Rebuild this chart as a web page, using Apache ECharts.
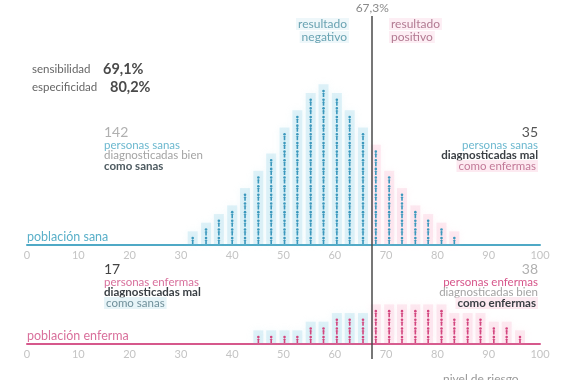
<!DOCTYPE html>
<html>
<head>
<meta charset="utf-8">
<script src="https://cdn.jsdelivr.net/npm/echarts@6/dist/echarts.min.js"></script>
<style>html,body{margin:0;padding:0;background:#fff}#c{width:570px;height:380px}</style>
</head>
<body>
<div id="c"></div>
<script>
// ---- data ----
const threshold = 67.3;
const tickLabels = ['0','10','20','30','40','50','60','70','80','90','100'];
const healthyX = [32.3, 34.9, 37.4, 40.0, 42.5, 45.1, 47.6, 50.2, 52.7, 55.3, 57.8, 60.4, 62.9, 65.5, 68.0, 70.6, 73.1, 75.7, 78.2, 80.8, 83.3];
const healthyCounts = [1, 2, 3, 4, 6, 8, 10, 13, 15, 17, 18, 17, 15, 13, 11, 8, 6, 4, 3, 2, 1];
const sickX = [45.1, 47.6, 50.2, 52.7, 55.3, 57.8, 60.4, 62.9, 65.5, 68.0, 70.6, 73.1, 75.7, 78.2, 80.8, 83.3, 85.9, 88.4, 91.0, 93.5, 96.1];
const sickCounts = [1, 1, 1, 1, 2, 2, 3, 3, 3, 4, 4, 4, 4, 4, 4, 3, 3, 3, 2, 2, 1];
const sensitivity = '69,1%';
const specificity = '80,2%';

const FONT = 'Lato';
const chart = echarts.init(document.getElementById('c'));

function renderCol(iconColor) {
  return function (params, api) {
    const x = api.value(0), n = api.value(1);
    const base = api.coord([x, 0]);
    const unit = api.size([0, 1])[1];
    const pos = x > threshold;
    const bg = pos ? 'rgba(250,205,222,0.42)' : 'rgba(180,224,238,0.42)';
    const cx = base[0];
    const children = [{
      type: 'rect',
      shape: { x: cx - 5, y: base[1] - n * unit - 5, width: 10, height: n * unit + 4 },
      style: { fill: bg, shadowBlur: 7, shadowColor: bg }
    }];
    for (let i = 0; i < n; i++) {
      const cy = base[1] - (i + 0.5) * unit;
      children.push({ type: 'circle', shape: { cx: cx, cy: cy - 2.6, r: 1.3 }, style: { fill: iconColor } });
      children.push({ type: 'polygon', shape: { points: [[cx - 1.7, cy + 0.2], [cx, cy - 1.2], [cx + 1.7, cy + 0.2], [cx + 0.8, cy + 0.2], [cx + 0.8, cy + 3.4], [cx - 0.8, cy + 3.4], [cx - 0.8, cy + 0.2]] }, style: { fill: iconColor } });
    }
    return { type: 'group', children: children };
  };
}

function xAxisCfg(grid, color, show) {
  return {
    type: 'value', gridIndex: grid, min: 0, max: 100, interval: 10,
    show: show,
    axisLine: { show: true, onZero: false, lineStyle: { color: color, width: 2 } },
    axisTick: { show: false }, splitLine: { show: false },
    axisLabel: { color: '#c4c4c4', fontSize: 11, fontFamily: FONT, margin: 5,
      formatter: function (v) { return tickLabels[Math.round(v / 10)]; } }
  };
}
function yAxisCfg(grid) {
  return { type: 'value', gridIndex: grid, min: 0, max: 20, show: false, splitLine: { show: false } };
}

function txt(x, y, text, color, opts) {
  opts = opts || {};
  return {
    type: 'text', x: x, y: y, z: 10,
    style: {
      text: text, fill: color, fontFamily: FONT,
      fontSize: opts.size || 11.5, fontWeight: opts.bold ? 'bold' : 'normal',
      align: opts.align || 'left', verticalAlign: 'top',
      backgroundColor: opts.bg || 'transparent', padding: opts.bg ? [0, 2, 0, 2] : 0
    }
  };
}

const teal = '#6cb8cf', pink = '#d8709c', gray = '#a4a4a4', dark = '#3a3f44';
const pinkBg = 'rgba(251,220,232,0.6)', blueBg = 'rgba(218,238,245,0.65)';

chart.setOption({
  animation: false,
  grid: [
    { left: 27, right: 30, top: 72, bottom: 135 },
    { left: 27, right: 30, top: 171, bottom: 36 },
    { left: 27, right: 30, top: 16, bottom: 21 }
  ],
  xAxis: [xAxisCfg(0, '#4fa9c6', true), xAxisCfg(1, '#d6588c', true), Object.assign(xAxisCfg(2, '#000', false), { show: false })],
  yAxis: [yAxisCfg(0), yAxisCfg(1), yAxisCfg(2)],
  series: [
    { type: 'custom', xAxisIndex: 0, yAxisIndex: 0, renderItem: renderCol('#3b98bd'),
      data: healthyX.map((x, i) => [x, healthyCounts[i]]), clip: false, z: 2 },
    { type: 'custom', xAxisIndex: 1, yAxisIndex: 1, renderItem: renderCol('#d3467f'),
      data: sickX.map((x, i) => [x, sickCounts[i]]), clip: false, z: 2 },
    { type: 'line', xAxisIndex: 2, yAxisIndex: 2, data: [], z: 5,
      markLine: {
        silent: true, symbol: 'none',
        lineStyle: { color: '#4a4a4a', width: 1.5, type: 'solid' },
        label: { show: true, position: 'end', formatter: '67,3%', color: '#8a8a8a', fontSize: 12, fontFamily: FONT, distance: 2 },
        data: [{ xAxis: threshold }]
      }
    }
  ],
  graphic: [
    txt(349, 18, 'resultado', '#6aa3b2', { size: 12, align: 'right', bg: 'rgba(226,242,247,0.6)' }),
    txt(349, 31, 'negativo', '#6aa3b2', { size: 12, align: 'right', bg: 'rgba(226,242,247,0.6)' }),
    txt(389, 18, 'resultado', '#b27a92', { size: 12, bg: 'rgba(252,226,236,0.6)' }),
    txt(389, 31, 'positivo', '#b27a92', { size: 12, bg: 'rgba(252,226,236,0.6)' }),

    { type: 'text', x: 32, y: 62, z: 10, style: { text: '{l|sensibilidad}{v|' + sensitivity + '}', fontFamily: FONT,
      rich: { l: { fontSize: 11.5, fill: '#666', fontFamily: FONT, width: 71 }, v: { fontSize: 14.5, fontWeight: 'bold', fill: '#4a4a4a', fontFamily: FONT } } } },
    { type: 'text', x: 32, y: 80, z: 10, style: { text: '{l|especificidad}{v|' + specificity + '}', fontFamily: FONT,
      rich: { l: { fontSize: 11.5, fill: '#666', fontFamily: FONT, width: 78 }, v: { fontSize: 14.5, fontWeight: 'bold', fill: '#4a4a4a', fontFamily: FONT } } } },

    txt(104, 125, '142', '#b0b0b0', { size: 14 }),
    txt(104, 139, 'personas sanas', teal),
    txt(104, 149.5, 'diagnosticadas bien', gray),
    txt(104, 160, 'como sanas', '#4d5a60', { bold: true }),

    txt(538, 125, '35', '#555', { size: 14, align: 'right' }),
    txt(538, 139, 'personas sanas', teal, { align: 'right' }),
    txt(538, 149.5, 'diagnosticadas mal', dark, { align: 'right', bold: true }),
    txt(538, 160, 'como enfermas', '#c27a98', { align: 'right', bg: pinkBg }),

    txt(104, 262, '17', '#444', { size: 14 }),
    txt(104, 276, 'personas enfermas', pink),
    txt(104, 286.5, 'diagnosticadas mal', dark, { bold: true }),
    txt(104, 297, 'como sanas', '#6f8f9a', { bg: blueBg }),

    txt(538, 262, '38', '#b0b0b0', { size: 14, align: 'right' }),
    txt(538, 276, 'personas enfermas', '#d6558a', { align: 'right' }),
    txt(538, 286.5, 'diagnosticadas bien', gray, { align: 'right' }),
    txt(538, 297, 'como enfermas', dark, { align: 'right', bold: true, bg: pinkBg }),

    txt(27, 230, 'población sana', '#5ab0c9', { size: 12.5 }),
    txt(27, 329, 'población enferma', '#d9709c', { size: 12.5 }),
    txt(443, 373, 'nivel de riesgo', '#999', { size: 12 })
  ]
});
</script>
</body>
</html>
